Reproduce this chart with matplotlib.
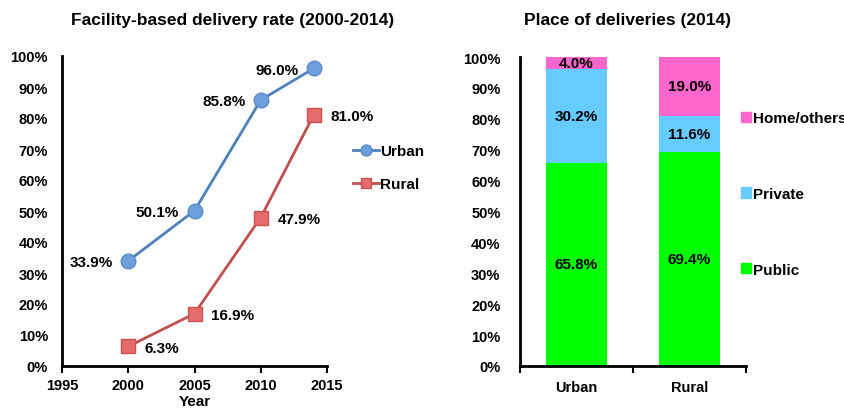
import matplotlib
matplotlib.use("Agg")
import matplotlib.pyplot as plt
from matplotlib.ticker import PercentFormatter
from matplotlib.patches import Patch

plt.rcParams['font.family'] = ['Liberation Sans', 'DejaVu Sans']
plt.rcParams['font.weight'] = 'bold'

years = [2000, 2005, 2010, 2014]
urban = [33.9, 50.1, 85.8, 96.0]
rural = [6.3, 16.9, 47.9, 81.0]

places = ['Urban', 'Rural']
public = [65.8, 69.4]
private = [30.2, 11.6]
home = [4.0, 19.0]

FS = 11
TFS = 10.5
W, H = 845, 410
fig = plt.figure(figsize=(8.45, 4.10), dpi=100)

# ---- left chart
ax1 = fig.add_axes([62/W, 1-367/H, (327-62)/W, (367-57)/H])
ax1.plot(years, urban, color='#4F81BD', lw=2, marker='o', ms=10.5,
         mfc='#6E9FDD', mec='#5A8AC8', label='Urban', zorder=3)
ax1.plot(years, rural, color='#C0504D', lw=2, marker='s', ms=9.5,
         mfc='#E46C6A', mec='#C85350', label='Rural', zorder=3)
for x, v in zip(years, urban):
    ax1.annotate(f'{v:.1f}%', (x, v), xytext=(-11, -1), textcoords='offset points',
                 ha='right', va='center', fontsize=FS, fontweight='bold')
for x, v in zip(years, rural):
    ax1.annotate(f'{v:.1f}%', (x, v), xytext=(12, -1), textcoords='offset points',
                 ha='left', va='center', fontsize=FS, fontweight='bold')
ax1.set_xlim(1995, 2015)
ax1.set_ylim(0, 100)
ax1.set_xticks([1995, 2000, 2005, 2010, 2015])
ax1.set_yticks(range(0, 101, 10))
ax1.yaxis.set_major_formatter(PercentFormatter(decimals=0))
ax1.set_xlabel('Year', fontsize=FS, fontweight='bold', labelpad=1)
for s in ['top', 'right']:
    ax1.spines[s].set_visible(False)
for s in ['left', 'bottom']:
    ax1.spines[s].set_linewidth(2)
ax1.tick_params(axis='y', length=0, labelsize=TFS, pad=10)
ax1.tick_params(axis='x', length=5, width=1.5, direction='out', labelsize=TFS, pad=4)
fig.text(233/W, 1-21/H, 'Facility-based delivery rate (2000-2014)', fontsize=12.5,
         fontweight='bold', ha='center', va='center')
ax1.legend(loc='upper left', bbox_to_anchor=(353/W, 1-145/H), bbox_transform=fig.transFigure,
           frameon=False, fontsize=FS, handlelength=1.7, handletextpad=0.05,
           labelspacing=1.25, markerscale=0.75, borderaxespad=0, borderpad=0)

# ---- right chart
ax2 = fig.add_axes([520/W, 1-367/H, (746-520)/W, (367-58)/H])
xs = [0, 1]
w = 0.54
ax2.bar(xs, public, w, color='#00FF00', label='Public')
ax2.bar(xs, private, w, bottom=public, color='#66CCFF', label='Private')
bot3 = [a + b for a, b in zip(public, private)]
ax2.bar(xs, home, w, bottom=bot3, color='#FF66CC', label='Home/others')
for i in xs:
    ax2.text(i, public[i] / 2, f'{public[i]:.1f}%', ha='center',
             va='center', fontsize=FS, fontweight='bold')
    ax2.text(i, public[i] + private[i] / 2, f'{private[i]:.1f}%', ha='center',
             va='center', fontsize=FS, fontweight='bold')
    ax2.text(i, bot3[i] + home[i] / 2, f'{home[i]:.1f}%', ha='center',
             va='center', fontsize=FS, fontweight='bold')
ax2.set_xlim(-0.5, 1.5)
ax2.set_ylim(0, 100)
ax2.set_xticks(xs)
ax2.set_xticklabels(places)
ax2.set_xticks([-0.5, 0.5, 1.5], minor=True)
ax2.set_yticks(range(0, 101, 10))
ax2.yaxis.set_major_formatter(PercentFormatter(decimals=0))
for s in ['top', 'right']:
    ax2.spines[s].set_visible(False)
for s in ['left', 'bottom']:
    ax2.spines[s].set_linewidth(2)
ax2.tick_params(axis='y', length=0, labelsize=TFS, pad=14)
ax2.tick_params(axis='x', which='major', length=0, labelsize=TFS, pad=10)
ax2.tick_params(axis='x', which='minor', length=5, width=1.5, direction='out')
fig.text(628/W, 1-21/H, 'Place of deliveries (2014)', fontsize=12.5,
         fontweight='bold', ha='center', va='center')
handles = [Patch(color='#FF66CC'), Patch(color='#66CCFF'), Patch(color='#00FF00')]
ax2.legend(handles, ['Home/others', 'Private', 'Public'], loc='upper left',
           bbox_to_anchor=(741/W, 1-112/H), bbox_transform=fig.transFigure,
           frameon=False, fontsize=FS, handlelength=0.65, handleheight=0.65,
           handletextpad=0.12, labelspacing=4.05, borderaxespad=0, borderpad=0)

fig.savefig('out.png', dpi=100)
